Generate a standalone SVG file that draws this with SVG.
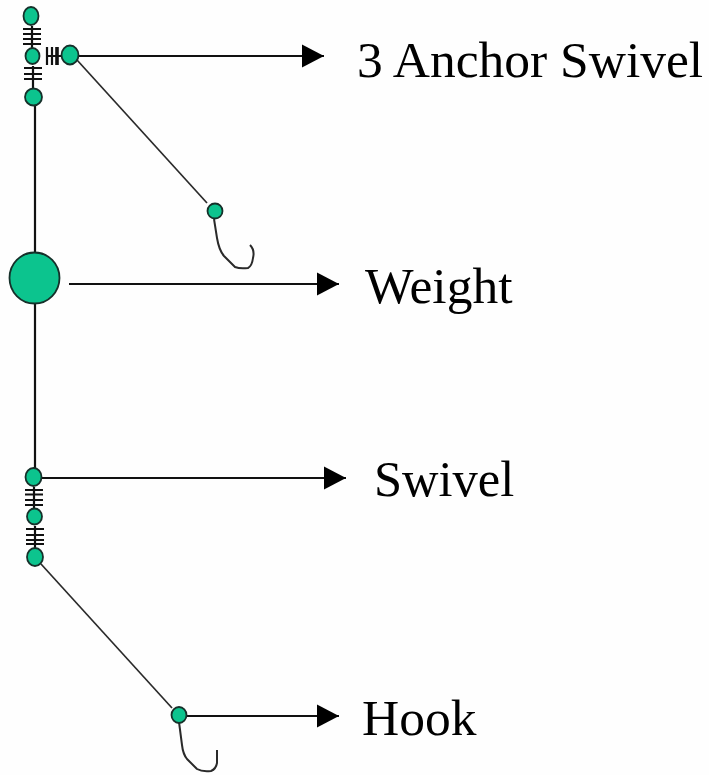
<svg xmlns="http://www.w3.org/2000/svg" width="709" height="775" viewBox="0 0 709 775">
<style>
.n{fill:#0cc48e;stroke:#16302a;stroke-width:1.8}
.l{fill:none;stroke:#111;stroke-width:2.2}
.t{fill:none;stroke:#2a2a2a;stroke-width:1.7}
.h{fill:none;stroke:#2a2a2a;stroke-width:2;stroke-linejoin:round}
.a{fill:none;stroke:#111;stroke-width:2.2;marker-end:url(#ah)}
text{font-family:"Liberation Serif","Times New Roman",serif;font-size:51.5px;fill:#000}
</style>
<defs><marker id="ah" markerUnits="userSpaceOnUse" markerWidth="23" markerHeight="24" refX="22" refY="12" orient="auto"><path d="M0 0.5L22 12L0 23.5Z" fill="#000"/></marker></defs>
<rect width="709" height="775" fill="#fefefe"/>
<g id="connectors">
<path class="l" d="M35 105V253M35 304V470"/>
<path class="t" d="M77 60L207 203"/>
<path class="t" d="M41 564L172 708"/>
<path class="h" d="M214 219L217 238Q219 250 224 256L235 267Q240 269 248 268Q252 266 253 258Q255 250 250 245"/>
<path class="h" d="M179 722L182 745Q183 754 187 759L197 769Q202 772 211 771Q216 769 217 763V750"/>
<path class="l" d="M23 29H41M23 34H41M23 39H41M23 44H41M32 26V48M24 68H42M24 74H42M24 79H42M33 66V88"/>
<path class="l" d="M47 47V65M52 47V65M47 56H62"/>
<path class="l" d="M57 47V65" style="stroke-width:3.6"/>
<path class="l" d="M25 490H43M25 494.500H43M25 500H43M25 505H43M34 487V508M26 529H44M26 535H44M26 540H44M26 544H44M35 526V548"/>
<path class="a" d="M78 56H324"/>
<path class="a" d="M69 284H339"/>
<path class="a" d="M41 478H346"/>
<path class="a" d="M186 716H339"/>
</g>
<g id="swivel-top-1"><ellipse class="n" cx="31" cy="16" rx="7.500" ry="9"/></g>
<g id="swivel-top-2"><ellipse class="n" cx="32.500" cy="56" rx="7" ry="8"/></g>
<g id="swivel-top-3"><ellipse class="n" cx="33.500" cy="97" rx="8.500" ry="8.500"/></g>
<g id="anchor-swivel"><ellipse class="n" cx="70" cy="55" rx="8.500" ry="9.500"/></g>
<g id="upper-hook-eye"><circle class="n" cx="215" cy="211" r="7.500"/></g>
<g id="weight"><ellipse class="n" cx="34.500" cy="278" rx="25" ry="25.500"/></g>
<g id="swivel-bottom-1"><ellipse class="n" cx="33.500" cy="477" rx="8" ry="9"/></g>
<g id="swivel-bottom-2"><ellipse class="n" cx="34.500" cy="516.500" rx="7.500" ry="8"/></g>
<g id="swivel-bottom-3"><ellipse class="n" cx="35" cy="557" rx="8" ry="9"/></g>
<g id="lower-hook-eye"><ellipse class="n" cx="179" cy="715" rx="7.500" ry="8"/></g>
<g id="labels">
<text x="357" y="77">3 Anchor Swivel</text>
<text x="365" y="303">Weight</text>
<text x="374" y="496" style="font-size:50.500px">Swivel</text>
<text x="362" y="735">Hook</text>
</g>
</svg>
